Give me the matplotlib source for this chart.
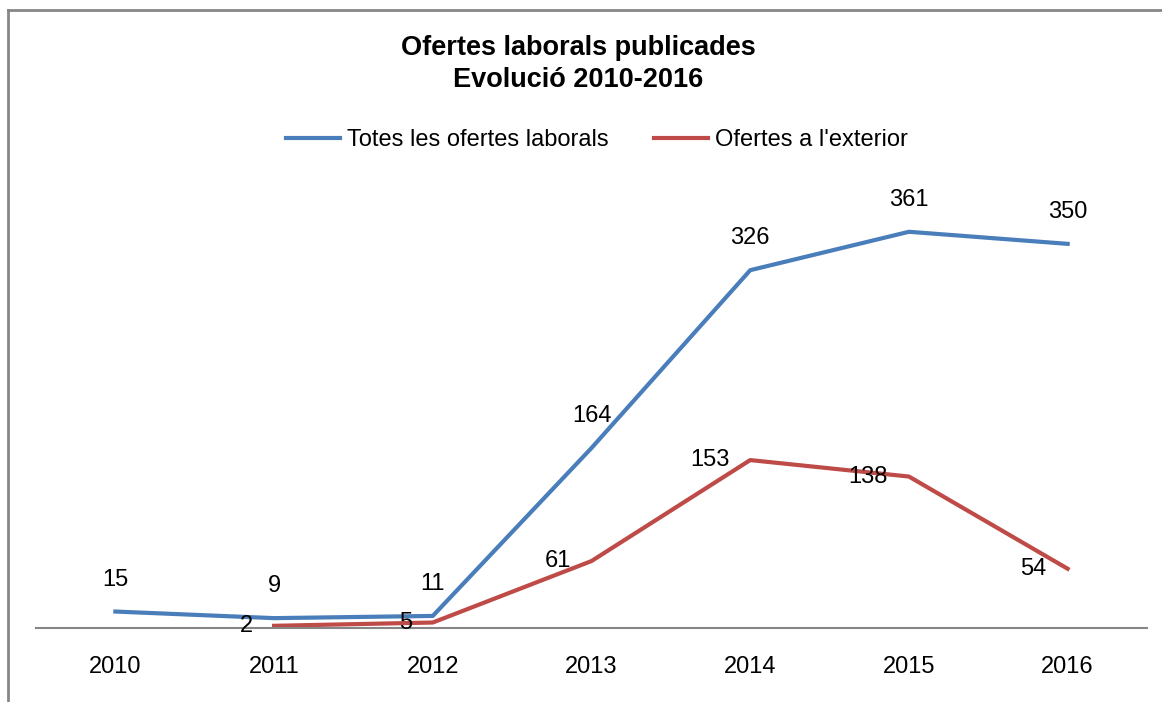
import matplotlib.pyplot as plt
from matplotlib.lines import Line2D

years = ["2010", "2011", "2012", "2013", "2014", "2015", "2016"]
totes = [15, 9, 11, 164, 326, 361, 350]
exterior_years = ["2011", "2012", "2013", "2014", "2015", "2016"]
exterior = [2, 5, 61, 153, 138, 54]

blue = "#4A7EBB"
red = "#BE4B48"
grey = "#868686"

plt.rcParams["font.family"] = ["Liberation Sans", "DejaVu Sans"]

fig = plt.figure(figsize=(11.62, 7.02), dpi=100)
ax = fig.add_axes([36 / 1162, 0.1054, (1147 - 36) / 1162, 0.7308 - 0.1054])

x_all = list(range(len(years)))
x_ext = [years.index(y) for y in exterior_years]

ax.plot(x_all, totes, color=blue, lw=3, label="Totes les ofertes laborals")
ax.plot(x_ext, exterior, color=red, lw=3, label="Ofertes a l'exterior")

for x, v in zip(x_all, totes):
    ax.annotate(str(v), (x, v), xytext=(0, 23), textcoords="offset points",
                ha="center", va="center", fontsize=17)
for x, v in zip(x_ext, exterior):
    ax.annotate(str(v), (x, v), xytext=(-15, 0), textcoords="offset points",
                ha="right", va="center", fontsize=17)

ax.set_xlim(-0.5, len(years) - 0.5)
ax.set_ylim(0, 400)
ax.set_xticks(x_all)
ax.set_xticklabels(years, fontsize=17)
ax.set_yticks([])
ax.tick_params(axis="x", length=0, pad=20)
for side in ["top", "right", "left"]:
    ax.spines[side].set_visible(False)
ax.spines["bottom"].set_color(grey)
ax.spines["bottom"].set_linewidth(1.5)

fig.text(578 / 1162, (702 - 48) / 702, "Ofertes laborals publicades",
         ha="center", va="center", fontsize=19.5, fontweight="bold")
fig.text(578 / 1162, (702 - 80) / 702, "Evolució 2010-2016",
         ha="center", va="center", fontsize=19.5, fontweight="bold")

fig.legend(loc="center", bbox_to_anchor=(597 / 1162, (702 - 140) / 702),
           ncol=2, frameon=False, fontsize=17, handlelength=2.3,
           handletextpad=0.3, columnspacing=1.9)

fig.add_artist(Line2D([8 / 1162, 1.01], [0.9858, 0.9858], color=grey, lw=2,
                      transform=fig.transFigure))
fig.add_artist(Line2D([8 / 1162, 8 / 1162], [0.9858, -0.01], color=grey, lw=2,
                      transform=fig.transFigure))

fig.savefig("out.png", dpi=100)
